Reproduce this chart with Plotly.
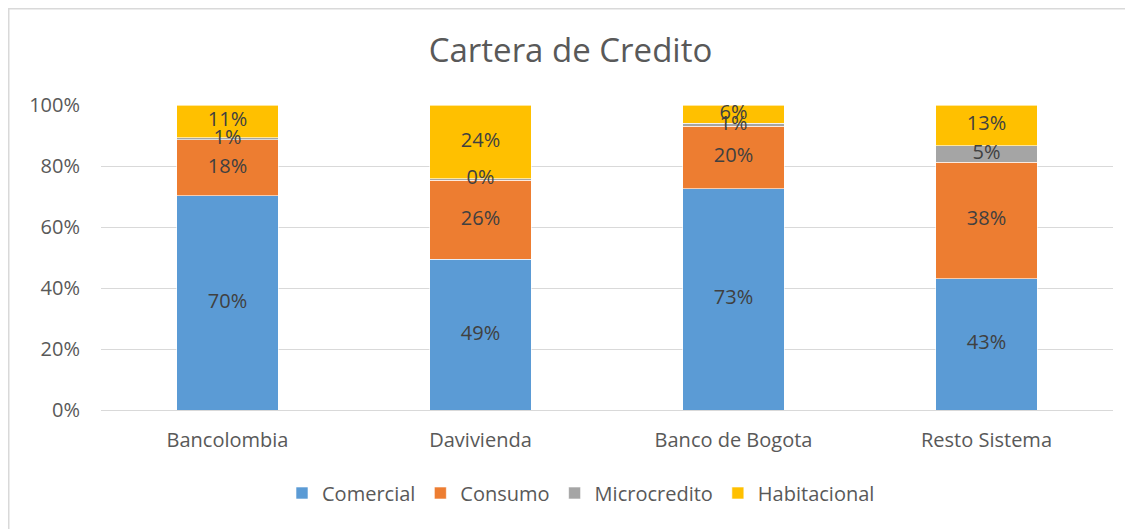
import plotly.graph_objects as go

# Datos (porcentaje de la cartera)
bancos = ['Bancolombia', 'Davivienda', 'Banco de Bogota', 'Resto Sistema']
comercial = [70.2, 49.4, 72.6, 43.0]
consumo = [18.4, 26.0, 20.4, 38.3]
microcredito = [0.7, 0.4, 1.0, 5.3]
habitacional = [10.7, 24.2, 6.0, 13.4]

series = [
    ('Comercial', comercial, '#5B9BD5'),
    ('Consumo', consumo, '#ED7D31'),
    ('Microcredito', microcredito, '#A5A5A5'),
    ('Habitacional', habitacional, '#FFC000'),
]

fuente = 'Open Sans, Noto Sans, sans-serif'
gris = '#595959'
W, H = 1125, 521
ml, mr, mt, mb = 93, 20, 97, 119
pw, ph = W - ml - mr, H - mt - mb

fig = go.Figure()
for nombre, valores, color in series:
    fig.add_trace(go.Bar(
        x=bancos, y=valores, name=nombre,
        marker=dict(color=color, line=dict(color='white', width=0.6)),
        hoverinfo='skip',
    ))

# etiquetas encima de todas las barras (como en Excel)
base = [0] * len(bancos)
for nombre, valores, color in series:
    medio = [b + v / 2 for b, v in zip(base, valores)]
    fig.add_trace(go.Scatter(
        x=bancos, y=medio, mode='text', showlegend=False,
        text=[f'{v:.0f}%' for v in valores], cliponaxis=False,
        textfont=dict(color='#404040', size=20, family=fuente),
        hoverinfo='skip',
    ))
    base = [b + v for b, v in zip(base, valores)]

fig.update_layout(
    barmode='stack', bargap=0.6,
    width=W, height=H,
    margin=dict(l=ml, r=mr, t=mt, b=mb),
    paper_bgcolor='white', plot_bgcolor='white',
    font=dict(family=fuente, color=gris, size=20),
    title=dict(text='Cartera de Credito', x=0.5, xanchor='center',
               y=1 - 42 / H, yanchor='middle',
               font=dict(size=33, color=gris, family=fuente)),
    legend=dict(orientation='h', x=(573 - ml) / pw, xanchor='center',
                y=(402 - 485) / ph, yanchor='middle',
                font=dict(size=20, color=gris), traceorder='normal'),
    showlegend=True,
)
fig.update_yaxes(range=[0, 100], dtick=20, ticksuffix='%',
                 showgrid=True, gridcolor='#D9D9D9', gridwidth=1.3,
                 zeroline=False, showline=False, ticks='',
                 ticklabelstandoff=20,
                 tickfont=dict(size=20, color=gris))
fig.update_xaxes(showline=True, linecolor='#D9D9D9', linewidth=1.3,
                 ticks='', ticklabelstandoff=12,
                 tickfont=dict(size=20, color=gris))

# borde del area del grafico
fig.add_shape(type='rect', xref='paper', yref='paper',
              x0=(0.75 - ml) / pw, x1=(W + 10 - ml) / pw,
              y0=(ph + mt - H - 10) / ph, y1=(ph + mt - 0.75) / ph,
              line=dict(color='#D9D9D9', width=1.5), layer='below')

fig.write_html('out.html')
